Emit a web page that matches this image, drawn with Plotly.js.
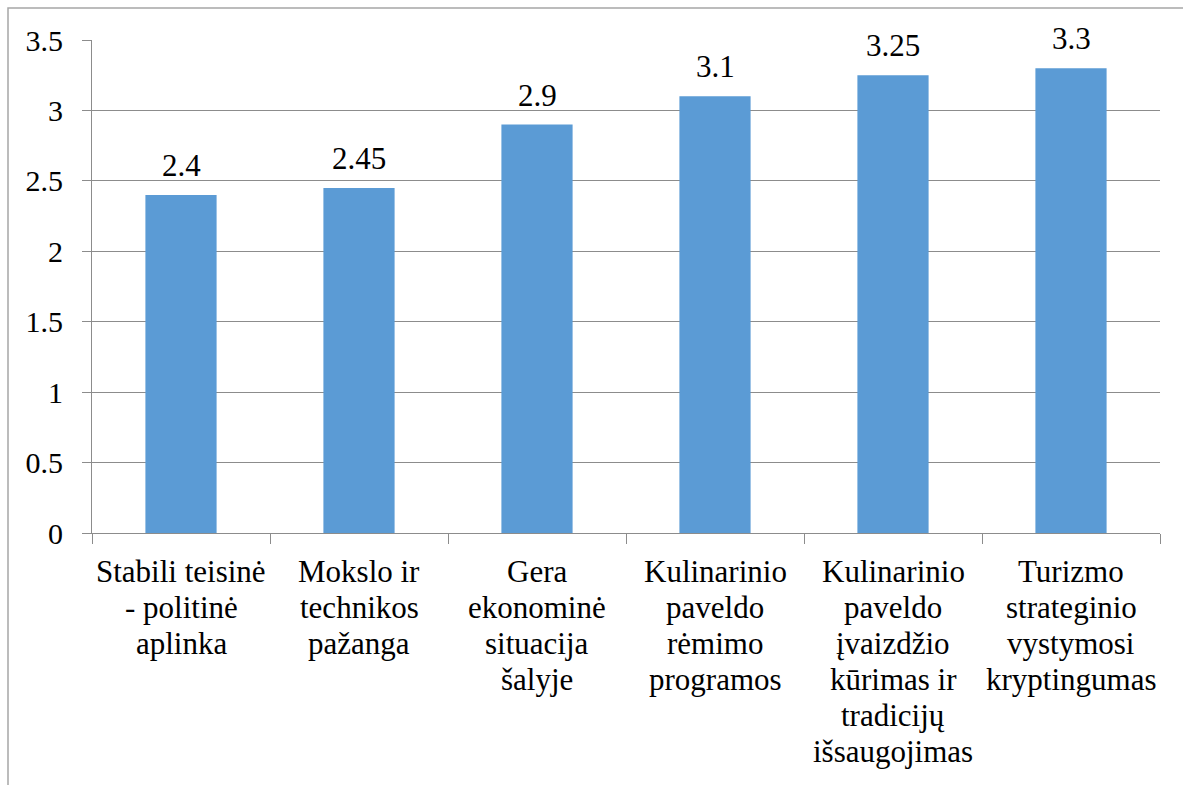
<!DOCTYPE html>
<html>
<head>
<meta charset="utf-8">
<script src="https://cdn.plot.ly/plotly-3.0.1.min.js"></script>
<style>
html,body{margin:0;padding:0;background:#fff;}
#chart{width:1183px;height:785px;}
svg text{font-family:"Liberation Serif","Tinos","Times New Roman",serif !important;}
</style>
</head>
<body>
<div id="chart"></div>
<script>
const categories = [
  "Stabili teisinė<br>- politinė<br>aplinka",
  "Mokslo ir<br>technikos<br>pažanga",
  "Gera<br>ekonominė<br>situacija<br>šalyje",
  "Kulinarinio<br>paveldo<br>rėmimo<br>programos",
  "Kulinarinio<br>paveldo<br>įvaizdžio<br>kūrimas ir<br>tradicijų<br>išsaugojimas",
  "Turizmo<br>strateginio<br>vystymosi<br>kryptingumas"
];
const values = [2.4, 2.45, 2.9, 3.1, 3.25, 3.3];
const valueLabels = ["2.4", "2.45", "2.9", "3.1", "3.25", "3.3"];
const yTicks = [0, 0.5, 1, 1.5, 2, 2.5, 3, 3.5];
const yTickLabels = ["0", "0.5", "1", "1.5", "2", "2.5", "3", "3.5"];

const serifFamily = "serif";
const grid = "#8c8c8c";
const fs = 31;
const lineStep = 36;

const trace = {
  type: "bar",
  x: categories,
  y: values,
  marker: {color: "#5B9BD5"},
  hoverinfo: "skip"
};

const annotations = [];
categories.forEach((c, i) => {
  annotations.push({
    x: c, y: values[i], xref: "x", yref: "y",
    text: valueLabels[i], showarrow: false,
    yanchor: "bottom", xanchor: "center", yshift: 10,
    font: {family: serifFamily, size: fs, color: "#000"}
  });
  c.split("<br>").forEach((line, j) => {
    annotations.push({
      x: c, y: 0, xref: "x", yref: "paper",
      text: line, showarrow: false,
      yanchor: "top", xanchor: "center", yshift: -19 - j * lineStep,
      font: {family: serifFamily, size: fs, color: "#000"}
    });
  });
});

const layout = {
  width: 1183, height: 785,
  margin: {l: 92, r: 23, t: 40, b: 252},
  paper_bgcolor: "#fff", plot_bgcolor: "#fff",
  bargap: 0.6,
  showlegend: false,
  font: {family: serifFamily, size: fs, color: "#000"},
  xaxis: {
    type: "category",
    tickson: "boundaries",
    ticks: "outside", ticklen: 10, tickcolor: grid, tickwidth: 1,
    showline: true, linecolor: grid, linewidth: 1,
    showgrid: false,
    showticklabels: false,
    automargin: false
  },
  yaxis: {
    range: [0, 3.5],
    tickvals: yTicks, ticktext: yTickLabels,
    ticks: "outside", ticklen: 9, tickcolor: grid, tickwidth: 1,
    showline: true, linecolor: grid, linewidth: 1,
    showgrid: true, gridcolor: grid, gridwidth: 1,
    zeroline: false,
    tickfont: {family: serifFamily, size: 30, color: "#000"},
    ticklabelstandoff: 13,
    automargin: false
  },
  annotations: annotations,
  shapes: [{
    type: "rect", xref: "paper", yref: "paper",
    x0: (8 - 92) / 1068, x1: 1.2,
    y0: -0.7, y1: (533 - 8) / 493,
    line: {color: "#a6a6a6", width: 1.5},
    fillcolor: "rgba(0,0,0,0)",
    layer: "below"
  }]
};

Plotly.newPlot("chart", [trace], layout, {displayModeBar: false});
</script>
</body>
</html>
